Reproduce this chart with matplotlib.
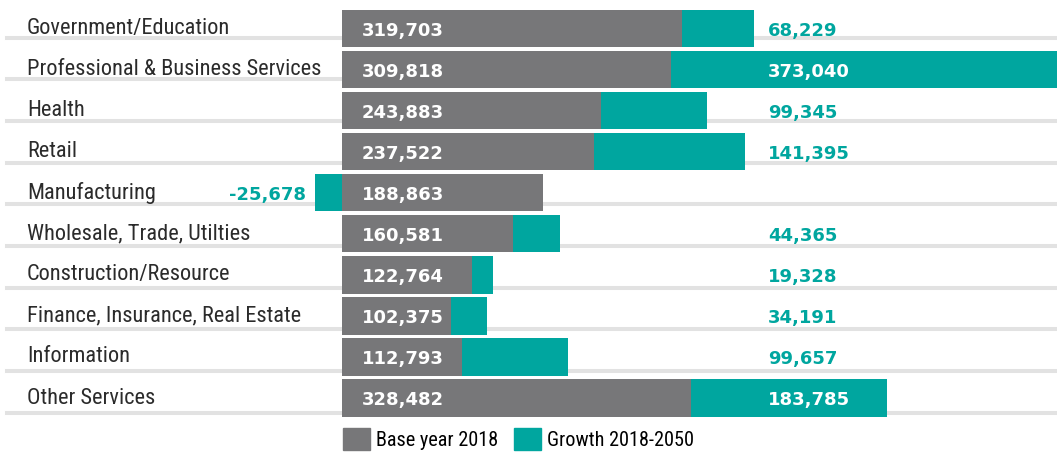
import matplotlib
matplotlib.use("Agg")
import matplotlib.pyplot as plt
from matplotlib import font_manager
from matplotlib.patches import Patch
from matplotlib.transforms import blended_transform_factory

# data
sectors = ["Government/Education", "Professional & Business Services", "Health",
           "Retail", "Manufacturing", "Wholesale, Trade, Utilties",
           "Construction/Resource", "Finance, Insurance, Real Estate",
           "Information", "Other Services"]
base_2018 = [319703, 309818, 243883, 237522, 188863, 160581, 122764, 102375, 112793, 328482]
growth = [68229, 373040, 99345, 141395, -25678, 44365, 19328, 34191, 99657, 183785]

gray = "#777779"
teal = "#00a69f"
line_col = "#e2e2e2"

# a narrow face if there is one, otherwise Roboto a bit smaller
names = {f.name for f in font_manager.fontManager.ttflist}
if "Roboto Condensed" in names:
    label_font, label_size, legend_size = ["Roboto Condensed", "DejaVu Sans"], 16.1, 14.6
elif "Liberation Sans Narrow" in names:
    label_font, label_size, legend_size = ["Liberation Sans Narrow", "DejaVu Sans"], 15.5, 14.5
else:
    label_font, label_size, legend_size = ["Roboto", "DejaVu Sans"], 14.2, 13.2

fig = plt.figure(figsize=(10.57, 4.54), dpi=100)
ax = fig.add_axes([0, 0, 1, 1])
x_left, x_right = -321731, 672624
ax.set_xlim(x_left, x_right)
ax.set_ylim(10.363, -0.694)
ax.axis("off")

trans = blended_transform_factory(ax.transAxes, ax.transData)
ypos = list(range(len(sectors)))

# separator lines behind the bars
for i in ypos:
    ax.axhline(i + 0.22 + 0.015 * i, xmin=7 / 1057, xmax=1, color=line_col, lw=2.9, zorder=0)

ax.barh(ypos, base_2018, height=0.91, color=gray, zorder=2)
growth_left = [b if g > 0 else 0 for b, g in zip(base_2018, growth)]
ax.barh(ypos, growth, left=growth_left, height=0.91, color=teal, zorder=2)

label_x = 768 / 1057
label_x_data = x_left + label_x * (x_right - x_left)
for i, (name, b, g) in enumerate(zip(sectors, base_2018, growth)):
    ax.text(27 / 1057, i, name, transform=trans, ha="left", va="center",
            fontsize=label_size, color="#2b2b2b", family=label_font, zorder=4)
    ax.text(362 / 1057, i + 0.05, f"{b:,}", transform=trans, ha="left", va="center",
            fontsize=13, fontweight="bold", color="white", zorder=4)
    if g < 0:
        ax.text(306 / 1057, i + 0.05, f"{g:,}", transform=trans, ha="right", va="center",
                fontsize=13, fontweight="bold", color=teal, zorder=4)
    else:
        inside = b + g > label_x_data + 60000
        ax.text(label_x, i + 0.05, f"{g:,}", transform=trans, ha="left", va="center",
                fontsize=13, fontweight="bold", color="white" if inside else teal, zorder=4)

handles = [Patch(color=gray, label="Base year 2018"), Patch(color=teal, label="Growth 2018-2050")]
ax.legend(handles=handles, loc="center left", bbox_to_anchor=(343 / 1057, 1 - 439 / 454),
          ncol=2, frameon=False, borderpad=0, borderaxespad=0, handlelength=1.35,
          handleheight=1.35, handletextpad=0.3, columnspacing=0.75,
          prop={"family": label_font, "size": legend_size})

fig.savefig("out.png", dpi=100)
